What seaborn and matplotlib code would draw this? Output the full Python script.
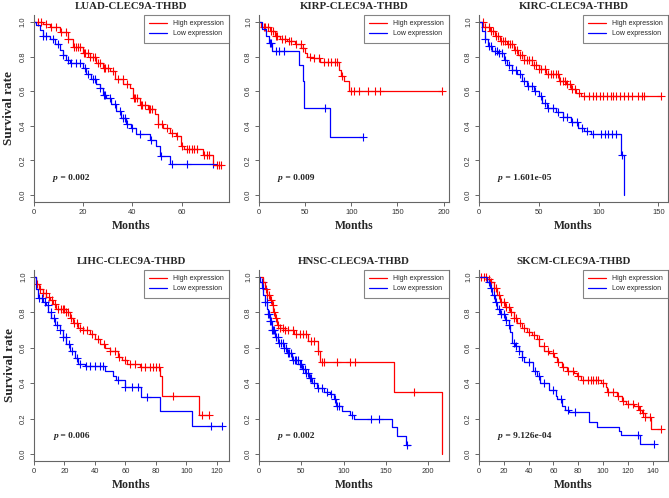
import matplotlib.pyplot as plt
import numpy as np
import seaborn as sns

titles = ["LUAD-CLEC9A-THBD", "KIRP-CLEC9A-THBD", "KIRC-CLEC9A-THBD",
          "LIHC-CLEC9A-THBD", "HNSC-CLEC9A-THBD", "SKCM-CLEC9A-THBD"]
pvals = ["0.002", "0.009", "1.601e-05", "0.006", "0.002", "9.126e-04"]
xticks = [[0, 20, 40, 60], [0, 50, 100, 150, 200], [0, 50, 100, 150],
          [0, 20, 40, 60, 80, 100, 120], [0, 50, 100, 150, 200],
          [0, 20, 40, 60, 80, 100, 120, 140]]
labels = ["High expression", "Low expression"]

# step curves: drop times / survival after drop, end of follow-up, censor times
luad_high_t = [0, 4, 6.6, 10.6, 14, 16, 20, 22.7, 25.4, 28, 30.8, 32.8, 36.2, 39, 40.2, 43, 46.3, 49, 50.3, 52.4, 55, 57.7, 59.8, 61, 68.5, 72.5]
luad_high_s = [1, 0.99, 0.97, 0.94, 0.90, 0.855, 0.82, 0.80, 0.764, 0.735, 0.716, 0.67, 0.64, 0.62, 0.56, 0.52, 0.495, 0.467, 0.41, 0.39, 0.36, 0.34, 0.285, 0.265, 0.234, 0.175]
luad_high_end = 76
luad_high_cens = [2, 3, 5, 7, 9, 11, 13, 14, 16.5, 17, 18, 19, 20.5, 21, 22, 23, 24, 25, 26, 27, 28.5, 29, 30, 32, 34, 36, 38, 40.5, 41, 42, 43.5, 44, 45, 46.5, 47, 48, 50.5, 52, 54, 56, 58, 60, 62, 63, 64, 65, 66, 69, 70, 71, 74, 75, 76]

luad_low_t = [0, 1.2, 2.6, 3.9, 6.6, 8.6, 10.6, 12, 13.3, 14.7, 20, 21.4, 23.4, 25.4, 26.8, 28.1, 29.5, 31.5, 33.5, 35.5, 37.5, 39.6, 41.6, 47, 49.7, 51, 55]
luad_low_s = [1, 0.98, 0.956, 0.917, 0.90, 0.87, 0.84, 0.81, 0.78, 0.765, 0.735, 0.70, 0.67, 0.64, 0.62, 0.58, 0.56, 0.524, 0.486, 0.447, 0.41, 0.39, 0.35, 0.32, 0.285, 0.226, 0.18]
luad_low_end = 72.5
luad_low_cens = [4, 5, 8, 10, 12, 14, 15, 17, 19, 21, 22, 24, 25, 27, 28.5, 29, 31, 33, 35, 36, 37, 38, 40, 43, 47.5, 51.5, 56, 62, 72.5]

kirp_high_t = [0, 2.5, 11.6, 17, 22.5, 30, 39, 46, 50, 52, 59, 66, 87, 89, 92, 97]
kirp_high_s = [1, 0.97, 0.95, 0.92, 0.90, 0.89, 0.87, 0.85, 0.82, 0.80, 0.79, 0.77, 0.72, 0.69, 0.66, 0.60]
kirp_high_end = 198
kirp_high_cens = [5, 7, 10, 13, 15, 18, 20, 25, 28, 32, 35, 40, 45, 48, 55, 60, 65, 70, 75, 78, 82, 85, 90, 100, 103, 108, 118, 126, 131, 198]

kirp_low_t = [0, 3.6, 8, 11, 14.5, 43, 48, 49, 77]
kirp_low_s = [1, 0.96, 0.92, 0.88, 0.83, 0.75, 0.66, 0.50, 0.333]
kirp_low_end = 113
kirp_low_cens = [12, 13, 18, 22, 27, 71, 113]

kirc_high_t = [0, 3.7, 9.3, 13.5, 17.7, 23.4, 29, 33, 37.4, 44.5, 50, 55.7, 67, 72.6, 76.8, 81, 85.3]
kirc_high_s = [1, 0.97, 0.95, 0.92, 0.89, 0.87, 0.84, 0.81, 0.78, 0.75, 0.73, 0.70, 0.66, 0.64, 0.61, 0.59, 0.57]
kirc_high_end = 152
kirc_high_cens = [3, 5, 8, 10, 12, 14, 16, 18, 20, 22, 24, 26, 28, 30, 32, 34, 36, 38, 40, 42, 44, 46, 48, 50, 52, 55, 58, 60, 62, 64, 66, 68, 70, 72, 74, 76, 78, 80, 84, 88, 92, 95, 98, 101, 104, 107, 110, 112, 115, 118, 121, 125, 128, 133, 136, 138, 152]

kirc_low_t = [0, 2.3, 5, 7.9, 10.7, 16.3, 20.5, 23.4, 27.6, 31.8, 36, 40, 45.9, 50, 53, 56.6, 64, 70, 77, 82.5, 88, 93.7, 119, 121.3]
kirc_low_s = [1, 0.95, 0.90, 0.86, 0.83, 0.82, 0.78, 0.75, 0.72, 0.70, 0.66, 0.63, 0.60, 0.57, 0.53, 0.50, 0.48, 0.45, 0.42, 0.39, 0.37, 0.35, 0.23, 0.0]
kirc_low_end = 121.3
kirc_low_cens = [5, 8, 10, 13, 15, 17, 19, 22, 25, 28, 31, 34, 38, 41, 44, 47, 52, 55, 58, 62, 66, 70, 74, 78, 82, 86, 90, 95, 102, 105, 108, 111, 115, 120]

lihc_high_t = [0, 1.5, 3.3, 5.9, 8.1, 10.3, 12.5, 14.7, 21, 23.4, 25.6, 28.9, 32, 36.6, 39.9, 43, 46.4, 49.7, 55, 57.4, 60.7, 69.4, 82.5, 84, 108.2]
lihc_high_s = [1, 0.96, 0.93, 0.91, 0.89, 0.87, 0.85, 0.82, 0.80, 0.77, 0.74, 0.71, 0.70, 0.68, 0.65, 0.62, 0.60, 0.58, 0.55, 0.53, 0.51, 0.49, 0.44, 0.33, 0.22]
lihc_high_end = 115
lihc_high_cens = [2, 4, 6, 8, 10, 12, 14, 16, 18, 19, 20, 21, 22, 24, 26, 28, 30, 32, 35, 38, 42, 46, 50, 53, 56, 60, 63, 66, 70, 73, 76, 78, 80, 82, 91, 110, 115]

lihc_low_t = [0, 1.5, 2.6, 5.9, 8.1, 9.2, 11.4, 13.6, 16.9, 19, 21.2, 23.4, 26.7, 28.9, 33.3, 46.4, 52, 54, 59.6, 70.5, 82.5, 103.4]
lihc_low_s = [1, 0.93, 0.88, 0.86, 0.84, 0.80, 0.77, 0.73, 0.70, 0.66, 0.62, 0.58, 0.54, 0.51, 0.50, 0.47, 0.44, 0.42, 0.38, 0.32, 0.24, 0.16]
lihc_low_end = 123
lihc_low_cens = [3, 5, 7, 9, 11, 13, 15, 17, 19, 21, 23, 25, 28, 30, 34, 37, 40, 43, 45, 55, 60, 64, 68, 74, 116, 123]

hnsc_high_t = [0, 5, 7, 9, 13, 15, 17, 19, 21, 25, 31, 41, 57.4, 69.3, 71.7, 159.6, 216]
hnsc_high_s = [1, 0.97, 0.93, 0.90, 0.87, 0.84, 0.80, 0.77, 0.73, 0.71, 0.70, 0.68, 0.64, 0.58, 0.52, 0.35, 0.0]
hnsc_high_end = 216
hnsc_high_cens = [5, 8, 10, 12, 14, 16, 18, 20, 22, 25, 28, 31, 34, 40, 44, 48, 52, 55, 62, 65, 70, 74, 77, 92, 108, 113, 183]

hnsc_low_t = [0, 1.2, 3.2, 5.1, 7, 9.1, 11, 13, 15, 19, 23, 29, 33, 38.8, 46.7, 50.7, 54.7, 58.6, 62.6, 68.5, 76.4, 84.4, 88.3, 91.5, 98.2, 108, 112, 157.6, 163.6, 173.5]
hnsc_low_s = [1, 0.97, 0.94, 0.90, 0.86, 0.82, 0.79, 0.75, 0.70, 0.66, 0.63, 0.60, 0.57, 0.53, 0.51, 0.48, 0.46, 0.43, 0.40, 0.37, 0.35, 0.34, 0.31, 0.27, 0.24, 0.22, 0.20, 0.15, 0.10, 0.05]
hnsc_low_end = 178.6
hnsc_low_cens = [3, 5, 7, 9, 11, 12, 13, 14, 15, 16, 18, 20, 22, 24, 26, 28, 30, 32, 34, 36, 38, 40, 42, 44, 46, 48, 50, 52, 54, 56, 58, 60, 62, 65, 70, 75, 80, 85, 90, 92, 95, 110, 132, 142, 175]

skcm_high_t = [0, 6.5, 9.2, 11.8, 14.5, 17.2, 21.3, 25.3, 28, 30.7, 34.7, 38.8, 42.8, 46.8, 48.2, 52.2, 56.3, 60.3, 63, 67, 71, 76.5, 79.2, 81.9, 98, 102, 103.4, 111.5, 115.5, 118.2, 125, 129, 131.7, 133.5, 139]
skcm_high_s = [1, 0.99, 0.97, 0.94, 0.90, 0.86, 0.83, 0.80, 0.77, 0.74, 0.71, 0.69, 0.67, 0.65, 0.61, 0.58, 0.57, 0.55, 0.52, 0.49, 0.47, 0.46, 0.44, 0.42, 0.40, 0.38, 0.35, 0.33, 0.30, 0.28, 0.27, 0.25, 0.23, 0.21, 0.14]
skcm_high_end = 146.5
skcm_high_cens = [2, 4, 6, 8, 10, 12, 14, 16, 18, 20, 22, 24, 26, 28, 30, 33, 36, 40, 44, 48, 52, 56, 60, 64, 68, 72, 76, 80, 84, 88, 90, 92, 94, 96, 100, 104, 108, 112, 116, 120, 124, 128, 130, 132, 134, 138, 146.5]

skcm_low_t = [0, 6.5, 8.6, 10.5, 13.2, 14.5, 17.2, 21.3, 24, 25.3, 26.7, 29.3, 32, 34.7, 36.1, 43.6, 46.8, 49.5, 56.3, 61.7, 63, 67, 69.7, 72.4, 88.6, 95.3, 112.8, 114.2, 129.8]
skcm_low_s = [1, 0.97, 0.94, 0.90, 0.86, 0.82, 0.79, 0.76, 0.73, 0.69, 0.63, 0.61, 0.58, 0.55, 0.52, 0.47, 0.44, 0.40, 0.36, 0.33, 0.31, 0.27, 0.25, 0.235, 0.18, 0.155, 0.13, 0.105, 0.055]
skcm_low_end = 141
skcm_low_cens = [8, 10, 12, 14, 16, 18, 20, 22, 24, 28, 30, 32, 35, 40, 45, 48, 52, 60, 66, 72, 77, 128, 141]

panels = [
    [(luad_high_t, luad_high_s, luad_high_end, luad_high_cens), (luad_low_t, luad_low_s, luad_low_end, luad_low_cens)],
    [(kirp_high_t, kirp_high_s, kirp_high_end, kirp_high_cens), (kirp_low_t, kirp_low_s, kirp_low_end, kirp_low_cens)],
    [(kirc_high_t, kirc_high_s, kirc_high_end, kirc_high_cens), (kirc_low_t, kirc_low_s, kirc_low_end, kirc_low_cens)],
    [(lihc_high_t, lihc_high_s, lihc_high_end, lihc_high_cens), (lihc_low_t, lihc_low_s, lihc_low_end, lihc_low_cens)],
    [(hnsc_high_t, hnsc_high_s, hnsc_high_end, hnsc_high_cens), (hnsc_low_t, hnsc_low_s, hnsc_low_end, hnsc_low_cens)],
    [(skcm_high_t, skcm_high_s, skcm_high_end, skcm_high_cens), (skcm_low_t, skcm_low_s, skcm_low_end, skcm_low_cens)],
]
colors = ["#ff0000", "#0000ff"]

sns.set_style("ticks")
plt.rcParams["font.family"] = ["Liberation Sans", "DejaVu Sans"]
serif = ["Liberation Serif", "DejaVu Serif"]

W, H = 669, 498
fig = plt.figure(figsize=(W / 100, H / 100), dpi=100)
boxes = [(33.5, 229, 15, 202), (259, 449, 15, 202), (479, 668, 15, 202),
         (34, 229, 270, 461), (259, 449, 270, 461), (479, 668, 270, 461)]
grey = "#666666"

for i, (box, curves) in enumerate(zip(boxes, panels)):
    l, r, t, b = box
    ax = fig.add_axes([l / W, 1 - b / H, (r - l) / W, (b - t) / H])
    handles = []
    xmax = 0
    for (tt, ss, end, cens), col, lab in zip(curves, colors, labels):
        tt = np.array(tt, float)
        ss = np.array(ss, float)
        x = np.append(tt, end)
        y = np.append(ss, ss[-1])
        sns.lineplot(x=x, y=y, drawstyle="steps-post", color=col, lw=0.9,
                     estimator=None, sort=False, ax=ax)
        handles.append(plt.Line2D([], [], color=col, lw=0.9, label=lab))
        c = np.array(cens, float)
        cy = ss[np.searchsorted(tt, c, side="right") - 1]
        sns.scatterplot(x=c, y=cy, marker="+", color=col, s=26, linewidth=0.8, ax=ax)
        xmax = max(xmax, end)
    ax.set_xlim(0, xmax * 1.04)
    ax.set_ylim(-0.04, 1.04)
    ax.set_xticks(xticks[i])
    ax.set_yticks([0, 0.2, 0.4, 0.6, 0.8, 1.0])
    ax.set_yticklabels(["0.0", "0.2", "0.4", "0.6", "0.8", "1.0"], rotation=90, va="center")
    ax.tick_params(labelsize=5.5, colors=grey, labelcolor="#333333", length=3, width=0.7, pad=2)
    for side in ["left", "bottom", "right"]:
        ax.spines[side].set_color(grey)
        ax.spines[side].set_linewidth(0.8)
    ax.spines["top"].set_visible(False)
    ax.set_title(titles[i], family=serif, fontweight="bold", fontsize=7.8, pad=4)
    ax.set_xlabel("Months", family=serif, fontweight="bold", fontsize=8.5, labelpad=3)
    if i % 3 == 0:
        ax.set_ylabel("Survival rate", family=serif, fontweight="bold", fontsize=9.5, labelpad=3)
    else:
        ax.set_ylabel("")
    leg = ax.legend(handles=handles, loc="upper right", fontsize=5.0, frameon=True,
                    fancybox=False, borderaxespad=0, handlelength=2.5, handletextpad=0.9,
                    borderpad=0.75, labelspacing=0.45)
    leg.get_frame().set_edgecolor(grey)
    leg.get_frame().set_linewidth(0.8)
    pt = ax.text(0.1, 0.1, "p", transform=ax.get_yaxis_transform(), family=serif,
                 fontstyle="italic", fontweight="bold", fontsize=6.8, va="center")
    ax.annotate(" = " + pvals[i], xy=(1, 0), xycoords=pt, va="bottom", ha="left",
                family=serif, fontweight="bold", fontsize=6.8)

fig.savefig("out.png", dpi=100)
